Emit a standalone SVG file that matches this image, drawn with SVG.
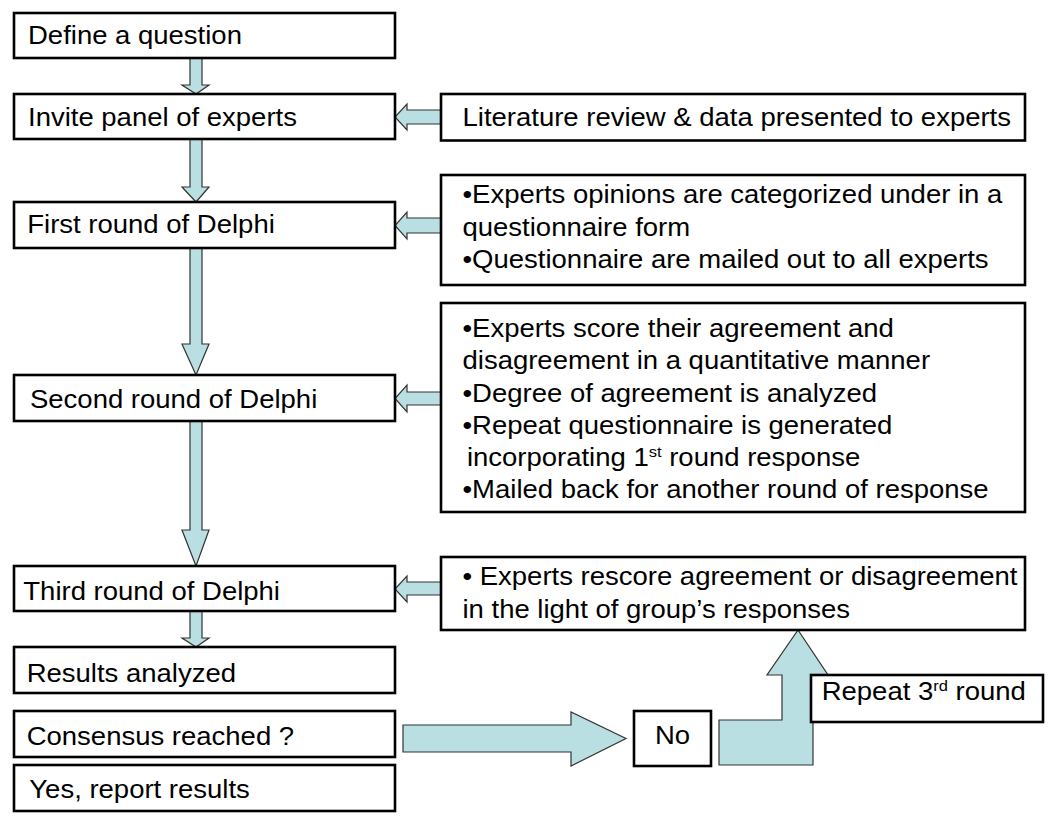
<svg xmlns="http://www.w3.org/2000/svg" width="1050" height="821" viewBox="0 0 1050 821">
<style>
.box{fill:#fff;stroke:#000;stroke-width:2.6}
.arr{fill:#b9dfe2;stroke:#333;stroke-width:1.2;stroke-linejoin:miter}
.t{font-family:"Liberation Sans",Arial,sans-serif;font-size:25px;fill:#000}
.sup{font-size:15px}
</style>
<rect width="1050" height="821" fill="#fff"/>
<g id="connectors">
<polygon class="arr" points="190,58 202,58 202,85 209,85 196,94 182,85 190,85"/>
<polygon class="arr" points="190,139 202,139 202,187 209,187 196,202 182,187 190,187"/>
<polygon class="arr" points="190,248 202,248 202,344 209,344 196,375 182,344 190,344"/>
<polygon class="arr" points="190,421 202,421 202,530 209,530 196,566 182,530 190,530"/>
<polygon class="arr" points="190,611 202,611 202,638 209,638 196,647 182,638 190,638"/>
<polygon class="arr" points="441,110 407,110 407,104 395,117 407,130 407,124 441,124"/>
<polygon class="arr" points="441,218 407,218 407,212 395,225.5 407,239 407,233 441,233"/>
<polygon class="arr" points="441,392 407,392 407,385 395,398.5 407,412 407,405 441,405"/>
<polygon class="arr" points="441,582 407,582 407,576 395,589 407,602 407,595 441,595"/>
<polygon class="arr" points="403,725 571,725 571,712 626,738.5 571,766 571,752 403,752"/>
<polygon class="arr" points="719,720 782,720 782,675 767,675 798,630 828,675 813,675 813,765 719,765"/>
</g>
<g id="n-define"><rect class="box" x="14" y="13" width="381" height="45"/><text class="t" transform="matrix(1.1 0 0 1 28 44.3)">Define a question</text></g>
<g id="n-invite"><rect class="box" x="14" y="94" width="381" height="45"/><text class="t" transform="matrix(1.1 0 0 1 28 126)">Invite panel of experts</text></g>
<g id="n-first"><rect class="box" x="14" y="202" width="381" height="46"/><text class="t" transform="matrix(1.1 0 0 1 27.3 233.3)">First round of Delphi</text></g>
<g id="n-second"><rect class="box" x="14" y="375" width="381" height="46"/><text class="t" transform="matrix(1.1 0 0 1 30 408.3)">Second round of Delphi</text></g>
<g id="n-third"><rect class="box" x="14" y="566" width="381" height="45"/><text class="t" transform="matrix(1.1 0 0 1 23.3 600)">Third round of Delphi</text></g>
<g id="n-results"><rect class="box" x="14" y="647" width="381" height="46"/><text class="t" transform="matrix(1.1 0 0 1 26.7 681.7)">Results analyzed</text></g>
<g id="n-consensus"><rect class="box" x="14" y="711" width="381" height="46"/><text class="t" transform="matrix(1.1 0 0 1 26.7 745)">Consensus reached ?</text></g>
<g id="n-yes"><rect class="box" x="14" y="765" width="381" height="46"/><text class="t" transform="matrix(1.1 0 0 1 29.3 798.3)">Yes, report results</text></g>
<g id="n-literature"><rect class="box" x="441" y="94" width="584" height="46.5"/><text class="t" transform="matrix(1.1 0 0 1 462.5 126)">Literature review &amp; data presented to experts</text></g>
<g id="n-r1"><rect class="box" x="441" y="175" width="584" height="110"/>
<text class="t" transform="matrix(1.1 0 0 1 462.5 0)"><tspan x="0" y="203.3">•Experts opinions are categorized under in a</tspan><tspan x="0" y="236.3">questionnaire form</tspan><tspan x="0" y="268.3">•Questionnaire are mailed out to all experts</tspan></text></g>
<g id="n-r2"><rect class="box" x="441" y="303" width="584" height="209"/>
<text class="t" transform="matrix(1.1 0 0 1 462.5 0)"><tspan x="0" y="337">•Experts score their agreement and</tspan><tspan x="0" y="369.5">disagreement in a quantitative manner</tspan><tspan x="0" y="401.7">•Degree of agreement is analyzed</tspan><tspan x="0" y="434">•Repeat questionnaire is generated</tspan><tspan x="4" y="466.5">incorporating 1</tspan><tspan class="sup" dy="-9">st</tspan><tspan dy="9"> round response</tspan><tspan x="0" y="498.5">•Mailed back for another round of response</tspan></text></g>
<g id="n-r3"><rect class="box" x="441" y="557" width="584" height="73"/>
<text class="t" transform="matrix(1.1 0 0 1 462.5 0)"><tspan x="0" y="585">• Experts rescore agreement or disagreement</tspan><tspan x="0" y="618.3">in the light of group’s responses</tspan></text></g>
<g id="n-no"><rect class="box" x="634" y="711" width="77" height="55"/><text class="t" transform="matrix(1.1 0 0 1 655 744)">No</text></g>
<g id="n-repeat"><rect class="box" x="811" y="675" width="232" height="47"/><text class="t" transform="matrix(1.1 0 0 1 821.7 700)">Repeat 3<tspan class="sup" dy="-9">rd</tspan><tspan dy="9"> round</tspan></text></g>
</svg>
